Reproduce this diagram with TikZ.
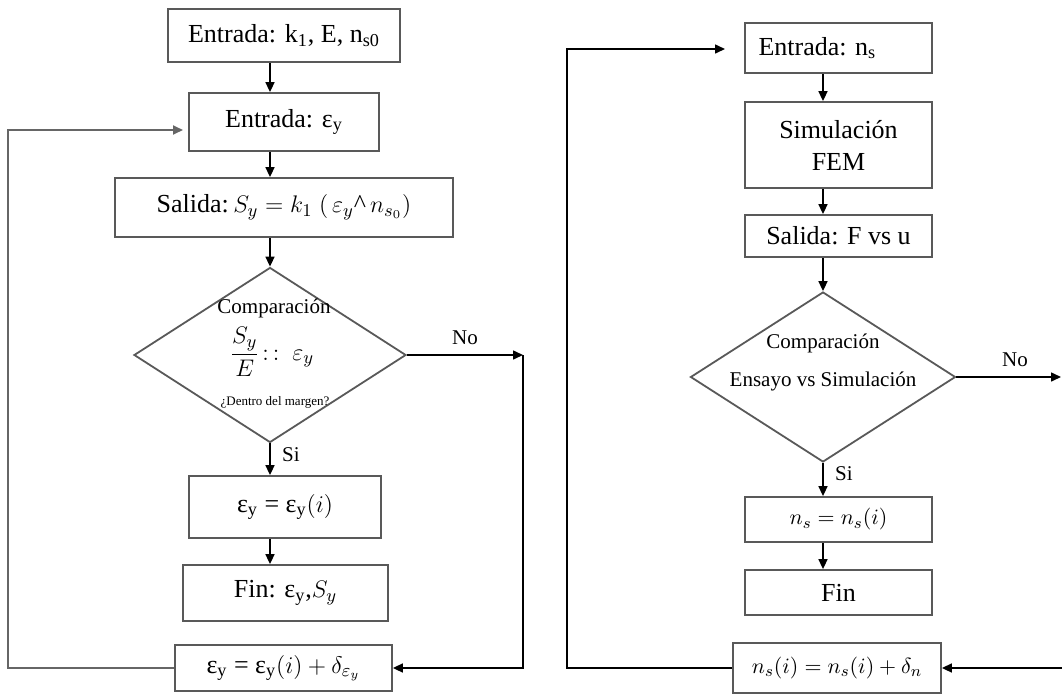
\documentclass[tikz,border=0pt]{standalone}
\usepackage{fontspec}
\setmainfont{Liberation Serif}
\usetikzlibrary{shapes.geometric,arrows.meta}

\begin{document}
\begin{tikzpicture}[
  x=0.5pt, y=-0.5pt,
  >={Triangle[length=5pt,width=4.5pt]},
  box/.style={rectangle, draw=black!65, line width=0.9pt, inner sep=0pt, align=center, font=\fontsize{13}{16}\selectfont},
  decision/.style={diamond, draw=black!65, line width=0.9pt, inner sep=0pt},
  lbl/.style={font=\fontsize{10.5}{12}\selectfont, inner sep=1pt},
  link/.style={line width=0.8pt, black},
  loopback/.style={line width=0.9pt, black!60}
  ]
  \useasboundingbox (0,0) rectangle (1062,697);

  % left chart
  \node[box, minimum width=116pt, minimum height=26.5pt] (in1) at (284,35.5) {Entrada: k\textsubscript{1}, E, n\textsubscript{s0}};
  \node[box, minimum width=95pt, minimum height=29pt] (in2) at (284,122) {Entrada: ε\textsubscript{y}};
  \node[box, minimum width=169pt, minimum height=29.5pt] (out1) at (284,207.5) {Salida:\,$S_y = k_1\ (\,\varepsilon_y$\textasciicircum$\,n_{s_0})$};
  \node[decision, minimum width=136pt, minimum height=87.5pt] (cmp1) at (270,355) {};
  \node[lbl] (cmp1a) at (274,308) {Comparación};
  \node[font=\fontsize{12.5}{15}\selectfont] (cmp1b) at (272,352) {$\displaystyle\frac{S_y}{E}\!:\,:\ \varepsilon_y$};
  \node[font=\fontsize{6.5}{8}\selectfont, inner sep=0pt] (cmp1c) at (275,402) {¿Dentro del margen?};
  \node[box, minimum width=96pt, minimum height=31pt] (ok1) at (285,507) {ε\textsubscript{y} = ε\textsubscript{y}$(i)$};
  \node[box, minimum width=102.5pt, minimum height=28pt] (fin1) at (285.5,593) {Fin: ε\textsubscript{y},$S_y$};
  \node[box, minimum width=108.5pt, minimum height=23pt] (upd1) at (283.5,668) {ε\textsubscript{y} = ε\textsubscript{y}$(i) + \delta_{\varepsilon_y}$};

  \node[lbl] (no1l) at (465,338) {No};
  \node[lbl] (si1l) at (291,455) {Si};

  \coordinate (no1) at (523,355);
  \coordinate (lft1) at (8,668);
  \coordinate (back1) at (183,130);

  \draw[link] (in2.north -| cmp1.north) [<-] to[] (in1.south -| cmp1.north);
  \draw[link] (out1.north -| cmp1.north) [<-] to[] (in2.south -| cmp1.north);
  \draw[link] (cmp1.north) [<-] to[] (out1.south -| cmp1.north);
  \draw[link] (ok1.north -| cmp1.south) [<-] to[] (cmp1.south);
  \draw[link] (fin1.north -| cmp1.south) [<-] to[] (ok1.south -| cmp1.south);
  \draw[link] (no1) [<-] to[] (cmp1.east);
  \draw[link, <-] (upd1.east) -| (no1);
  \draw[loopback, ->] (upd1.west) -- (lft1) |- (back1);

  % right chart
  \node[box, minimum width=93.5pt, minimum height=25pt] (in3) at (838.5,48) {\makebox[80pt][l]{Entrada: n\textsubscript{s}}};
  \node[box, minimum width=93.5pt, minimum height=43pt] (sim) at (838.5,145) {Simulación\\FEM};
  \node[box, minimum width=93.5pt, minimum height=21pt] (out2) at (838.5,236) {Salida: F vs u};
  \node[decision, minimum width=132.5pt, minimum height=85pt] (cmp2) at (823,377) {};
  \node[lbl] (cmp2a) at (823,343) {Comparación};
  \node[lbl] (cmp2b) at (823,381) {Ensayo vs Simulación};
  \node[box, minimum width=93.5pt, minimum height=22.5pt, font=\fontsize{11}{13}\selectfont] (ok2) at (838.5,519.5) {$n_s = n_s(i)$};
  \node[box, minimum width=93.5pt, minimum height=22.5pt] (fin2) at (838.5,592.5) {Fin};
  \node[box, minimum width=104pt, minimum height=25pt, font=\fontsize{11}{13}\selectfont] (upd2) at (837,668) {$n_s(i) = n_s(i) + \delta_n$};

  \node[lbl] (no2l) at (1015,360) {No};
  \node[lbl] (si2l) at (844,474) {Si};

  \coordinate (no2) at (1061,377);
  \coordinate (ret2) at (1062,668);
  \coordinate (lft2) at (567,668);
  \coordinate (back2) at (725,49);

  \draw[link] (sim.north -| cmp2.north) [<-] to[] (in3.south -| cmp2.north);
  \draw[link] (out2.north -| cmp2.north) [<-] to[] (sim.south -| cmp2.north);
  \draw[link] (cmp2.north) [<-] to[] (out2.south -| cmp2.north);
  \draw[link] (ok2.north -| cmp2.south) [<-] to[] (cmp2.south);
  \draw[link] (fin2.north -| cmp2.south) [<-] to[] (ok2.south -| cmp2.south);
  \draw[link] (no2) [<-] to[] (cmp2.east);
  \draw[link] (upd2.east) [<-] to[] (ret2);
  \draw[link, ->] (upd2.west) -- (lft2) |- (back2);

\end{tikzpicture}
\end{document}
